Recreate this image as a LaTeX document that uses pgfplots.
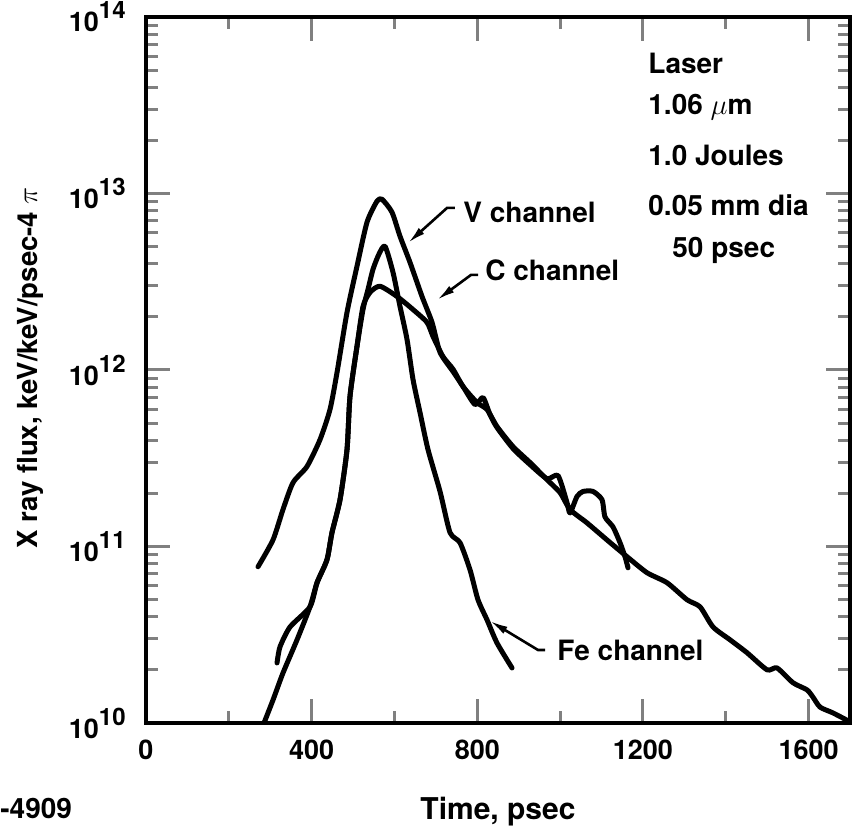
\documentclass[border=0pt]{standalone}
\usepackage{fontspec}
\setmainfont{TeX Gyre Heros}
\usepackage{pgfplots}
\pgfplotsset{compat=1.18}
\usetikzlibrary{arrows.meta}
\newcommand{\tp}[1]{10\raisebox{0.48em}{\fontsize{12}{12}\selectfont #1}}

\pgfplotstableread{
x y
270.5 7.68e10
306.7 1.09e11
330.8 1.62e11
355.0 2.30e11
388.8 2.84e11
420.2 4.03e11
444.3 5.97e11
461.3 9.68e11
485.4 2.12e12
509.5 3.87e12
533.7 6.87e12
557.8 9.04e12
569.9 9.27e12
594.0 7.83e12
613.4 5.72e12
637.5 4.07e12
666.5 2.61e12
690.7 1.86e12
710.0 1.26e12
741.4 9.80e11
765.5 8.06e11
794.5 6.37e11
813.8 6.98e11
830.7 5.59e11
847.6 4.72e11
886.3 3.59e11
927.3 2.91e11
968.4 2.42e11
995.0 2.52e11
1016.7 1.77e11
1024.0 1.55e11
1040.8 1.92e11
1055.3 2.05e11
1079.5 2.05e11
1101.2 1.84e11
1108.4 1.47e11
1127.8 1.29e11
1144.7 1.05e11
1156.7 8.75e10
1164.0 7.57e10
}\Vch

\pgfplotstableread{
x y
316.4 2.19e10
323.6 2.70e10
347.8 3.50e10
396.0 4.55e10
413.0 6.23e10
437.0 8.41e10
449.2 1.20e11
468.5 1.84e11
485.4 3.54e11
492.6 7.08e11
509.5 1.36e12
524.0 2.29e12
541.0 2.75e12
565.0 2.98e12
606.0 2.61e12
644.8 2.20e12
678.6 1.86e12
693.0 1.55e12
717.2 1.19e12
741.4 1.01e12
765.5 8.06e11
799.3 6.54e11
823.5 5.97e11
847.6 4.78e11
886.3 3.68e11
927.3 2.99e11
968.4 2.39e11
999.8 2.02e11
1024.0 1.62e11
1065.0 1.36e11
1113.0 1.09e11
1161.6 8.75e10
1209.9 7.10e10
1258.2 6.23e10
1306.5 4.99e10
1337.9 4.55e10
1369.2 3.50e10
1410.3 2.96e10
1451.4 2.50e10
1499.7 2.00e10
1523.8 2.05e10
1562.4 1.69e10
1596.3 1.54e10
1610.7 1.40e10
1627.7 1.23e10
1659.0 1.14e10
1695.0 1.03e10
}\Cch

\pgfplotstableread{
x y
285.0 1.00e10
306.7 1.35e10
330.8 1.92e10
364.7 2.96e10
396.0 4.55e10
413.0 6.23e10
437.0 8.41e10
449.2 1.20e11
468.5 1.84e11
485.4 3.54e11
492.6 7.08e11
509.5 1.36e12
524.0 2.20e12
536.1 2.86e12
548.2 3.72e12
562.7 4.54e12
577.2 5.02e12
596.5 3.57e12
613.4 2.29e12
630.3 1.49e12
644.8 8.83e11
661.7 5.74e11
681.0 3.54e11
710.0 2.05e11
734.1 1.20e11
758.3 1.05e11
782.4 7.38e10
801.7 4.99e10
823.5 3.84e10
847.6 2.84e10
883.9 2.05e10
}\Fech

\begin{document}
\begin{tikzpicture}
\begin{axis}[
  name=ax,
  at={(0pt,0pt)}, anchor=south west,
  scale only axis, width=352pt, height=353pt,
  ymode=log, xmin=0, xmax=1700, ymin=1e10, ymax=1e14,
  xtick={0,400,800,1200,1600},
  xticklabels={0,400,800,1200,1600},
  minor xtick={200,600,1000,1400},
  ytick={1e10,1e11,1e12,1e13,1e14},
  yticklabels={\tp{10},\tp{11},\tp{12},\tp{13},\tp{14}},
  major tick length=12pt, minor tick length=6pt,
  xtick style={line width=1.5pt},
  ytick style={line width=1.5pt},
  tick label style={font=\bfseries\fontsize{13.5}{14}\selectfont, inner sep=0pt},
  yticklabel style={xshift=-10pt},
  xticklabel style={yshift=-8.5pt},
  xlabel={Time, psec},
  ylabel={X ray flux, keV/keV/psec-4 $\pi$},
  label style={font=\bfseries\fontsize{15}{16}\selectfont},
  ylabel style={font=\bfseries\fontsize{13.8}{15}\selectfont},
  xlabel style={at={(axis description cs:0.5,-0.126)}, anchor=center},
  ylabel style={at={(axis description cs:-0.1648,0.503)}, anchor=center},
]
\addplot[black, no marks, line width=2.5pt, line join=round, line cap=round, smooth, tension=0.4] table[x=x,y=y] {\Cch};
\addplot[black, no marks, line width=2.5pt, line join=round, line cap=round, smooth, tension=0.4] table[x=x,y=y] {\Fech};
\addplot[black, no marks, line width=2.5pt, line join=round, line cap=round, smooth, tension=0.4] table[x=x,y=y] {\Vch};

\begin{scope}[every node/.style={anchor=west, inner sep=0pt, font=\bfseries\fontsize{14}{15}\selectfont}]
\node at (rel axis cs:0.7131,0.9348) {Laser};
\node at (rel axis cs:0.7131,0.8725) {1.06 $\mu$m};
\node at (rel axis cs:0.7131,0.8045) {1.0 Joules};
\node at (rel axis cs:0.7131,0.7337) {0.05 mm dia};
\node at (rel axis cs:0.7472,0.6700) {50 psec};
\node at (rel axis cs:0.4503,0.7238) {V channel};
\node at (rel axis cs:0.4815,0.6416) {C channel};
\node at (rel axis cs:0.5838,0.1034) {Fe channel};
\end{scope}

\draw[line width=1.3pt, -{Latex[length=9pt,width=4pt]}] (rel axis cs:0.4389,0.7295) -- (rel axis cs:0.4276,0.7295) -- (rel axis cs:0.3722,0.6799);
\draw[line width=1.3pt, -{Latex[length=9pt,width=4pt]}] (rel axis cs:0.4716,0.6346) -- (rel axis cs:0.4616,0.6346) -- (rel axis cs:0.4134,0.5992);
\draw[line width=1.3pt, -{Latex[length=9pt,width=4pt]}] (rel axis cs:0.5668,0.1034) -- (rel axis cs:0.5568,0.1034) -- (rel axis cs:0.4886,0.1445);
\end{axis}
\draw[line width=2pt] (ax.south west) rectangle (ax.north east);
\node[anchor=west, inner sep=0pt, font=\bfseries\fontsize{14}{15}\selectfont] at (-73pt,-42.5pt) {-4909};
\path (-73pt,-53pt) rectangle (353.5pt,361.5pt);
\end{tikzpicture}
\end{document}
